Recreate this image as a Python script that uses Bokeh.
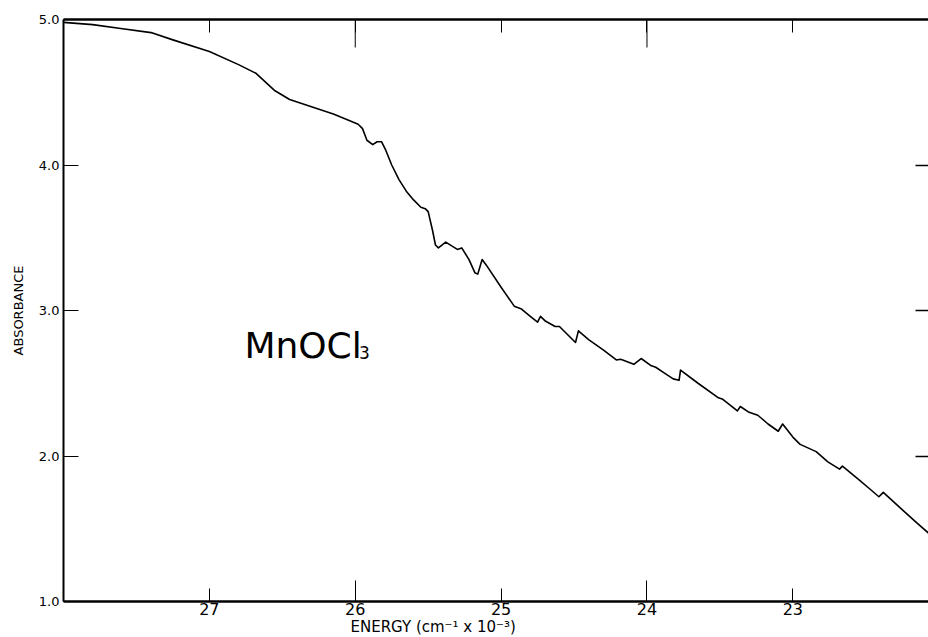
from bokeh.plotting import figure
from bokeh.models import Range1d, LinearAxis, FixedTicker, Label, Title
from bokeh.embed import file_html
from bokeh.resources import INLINE

# Energy (cm^-1 x 10^-3) and absorbance
energy = [28.0, 27.8, 27.62, 27.4, 27.25, 27.0, 26.8, 26.68, 26.55, 26.45, 26.3, 26.15,
          26.05, 25.98, 25.95, 25.92, 25.88, 25.85, 25.82, 25.79, 25.75, 25.7, 25.65,
          25.6, 25.55, 25.52, 25.5, 25.47, 25.45, 25.43, 25.38, 25.3, 25.27, 25.22,
          25.18, 25.16, 25.13, 25.1, 25.0, 24.91, 24.86, 24.8, 24.75, 24.73, 24.7,
          24.63, 24.6, 24.55, 24.49, 24.47, 24.4, 24.3, 24.21, 24.18, 24.09, 24.04,
          23.97, 23.94, 23.88, 23.82, 23.78, 23.77, 23.65, 23.51, 23.48, 23.38, 23.36,
          23.3, 23.24, 23.17, 23.1, 23.07, 23.0, 22.95, 22.84, 22.76, 22.68, 22.66,
          22.6, 22.55, 22.48, 22.41, 22.38, 22.26, 22.15, 22.07]
absorbance = [4.98, 4.965, 4.94, 4.91, 4.86, 4.78, 4.69, 4.63, 4.51, 4.45, 4.40, 4.35,
              4.31, 4.28, 4.25, 4.17, 4.14, 4.16, 4.16, 4.10, 4.00, 3.90, 3.82,
              3.76, 3.71, 3.70, 3.68, 3.55, 3.45, 3.43, 3.47, 3.42, 3.43, 3.35,
              3.26, 3.25, 3.35, 3.31, 3.16, 3.03, 3.01, 2.96, 2.92, 2.96, 2.93,
              2.89, 2.89, 2.84, 2.78, 2.86, 2.80, 2.73, 2.66, 2.665, 2.63, 2.67,
              2.62, 2.61, 2.57, 2.53, 2.52, 2.59, 2.50, 2.40, 2.39, 2.31, 2.34,
              2.30, 2.28, 2.22, 2.17, 2.22, 2.13, 2.08, 2.03, 1.96, 1.91, 1.93,
              1.88, 1.84, 1.78, 1.72, 1.75, 1.64, 1.54, 1.47]

x_ticks = [23, 24, 25, 26, 27]
x_long_ticks = [24, 26]
y_ticks = [1, 2, 3, 4, 5]
y_tick_labels = ["1.0", "2.0", "3.0", "4.0", "5.0"]
y_inner_ticks = [2, 3, 4]

FONT = "DejaVu Sans"

p = figure(width=928, height=637, x_range=Range1d(28.0, 22.07), y_range=Range1d(1.0, 5.0),
           output_backend="svg", toolbar_location=None,
           min_border_left=63, min_border_right=0, min_border_top=19, min_border_bottom=36)
p.outline_line_color = None
p.xgrid.visible = False
p.ygrid.visible = False
p.background_fill_color = "white"
p.border_fill_color = "white"

p.line(energy, absorbance, line_color="black", line_width=1.6, line_join="round")

# bottom axis
xa = p.xaxis[0]
xa.ticker = FixedTicker(ticks=x_ticks, minor_ticks=x_long_ticks)
xa.axis_line_color = "black"
xa.axis_line_width = 2.5
xa.major_tick_in = 13
xa.major_tick_out = 0
xa.minor_tick_in = 21
xa.minor_tick_out = 0
xa.major_tick_line_color = "black"
xa.minor_tick_line_color = "black"
xa.major_label_text_font = FONT
xa.major_label_text_font_size = "16px"
xa.major_label_text_color = "black"
xa.major_label_standoff = 1

# left axis
ya = p.yaxis[0]
ya.ticker = FixedTicker(ticks=y_ticks)
ya.major_label_overrides = {t: s for t, s in zip(y_ticks, y_tick_labels)}
ya.axis_line_color = "black"
ya.axis_line_width = 2
ya.major_tick_in = 15
ya.major_tick_out = 0
ya.minor_tick_line_color = None
ya.major_tick_line_color = "black"
ya.major_label_text_font = FONT
ya.major_label_text_font_size = "13px"
ya.major_label_text_color = "black"
ya.major_label_standoff = 4
ya.axis_label = "ABSORBANCE"
ya.axis_label_text_font = FONT
ya.axis_label_text_font_size = "13px"
ya.axis_label_text_font_style = "normal"
ya.axis_label_text_color = "black"
ya.axis_label_standoff = 10

# top axis: line and short inward ticks (minor ticks carry no labels)
top = LinearAxis(ticker=FixedTicker(ticks=[], minor_ticks=x_ticks),
                 axis_line_color="black", axis_line_width=2.5,
                 major_tick_in=0, major_tick_out=0, minor_tick_in=13, minor_tick_out=0,
                 minor_tick_line_color="black")
p.add_layout(top, "above")

# longer top ticks at 26 and 24 (28 px ~ 0.19 absorbance units)
p.segment(x0=x_long_ticks, y0=[5.0] * len(x_long_ticks),
          x1=x_long_ticks, y1=[5.0 - 28 / 145.4] * len(x_long_ticks),
          line_color="black", line_width=1)

# right axis: inward ticks only
right = LinearAxis(ticker=FixedTicker(ticks=[], minor_ticks=y_inner_ticks),
                   axis_line_color=None,
                   major_tick_in=0, major_tick_out=0, minor_tick_in=13, minor_tick_out=0,
                   minor_tick_line_color="black", minor_tick_line_width=1.5)
p.add_layout(right, "right")

# x-axis title (left-aligned with offset to sit where the reference has it)
p.add_layout(Title(text="ENERGY (cm\u207b\u00b9 x 10\u207b\u00b3)", align="left", offset=287,
                   text_font=FONT, text_font_size="15px", text_font_style="normal",
                   vertical_align="top",
                   text_color="black", standoff=0), "below")

# compound name
p.add_layout(Label(x=26.76, y=2.76, text="MnOCl", text_align="left",
                   text_baseline="alphabetic", text_font=FONT,
                   text_font_size="36px", text_color="black"))
p.add_layout(Label(x=25.975, y=2.71, text="3", text_align="left",
                   text_baseline="alphabetic", text_font=FONT,
                   text_font_size="17px", text_color="black"))

open("out.html", "w").write(file_html(p, INLINE))
